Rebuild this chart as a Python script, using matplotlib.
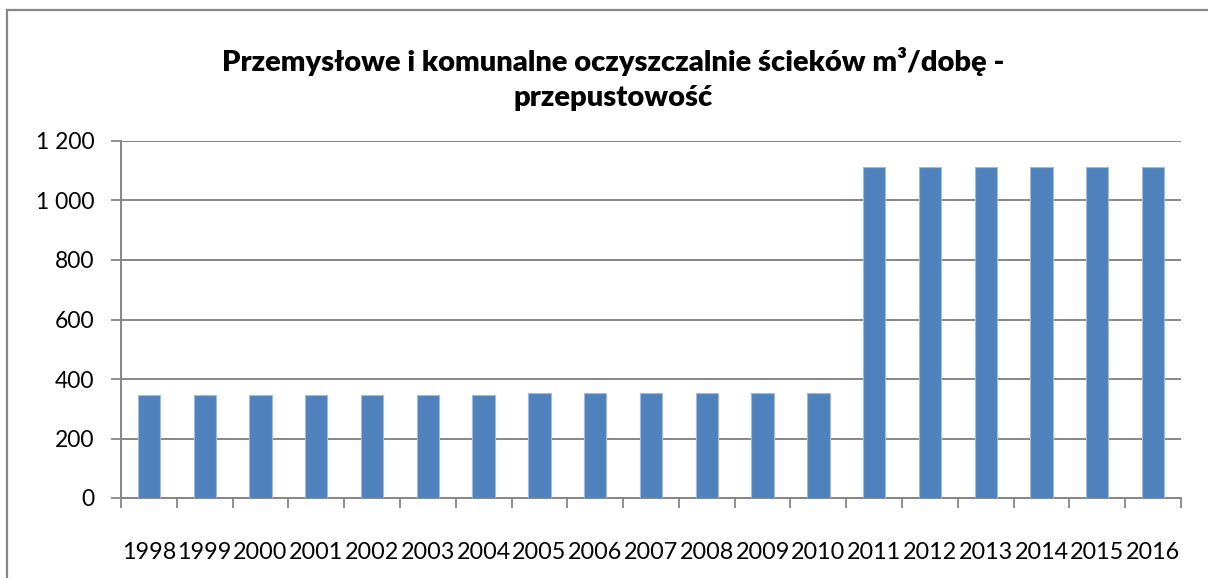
import matplotlib
matplotlib.use("Agg")
import matplotlib.pyplot as plt
from matplotlib.lines import Line2D

years = ["1998", "1999", "2000", "2001", "2002", "2003", "2004", "2005", "2006",
         "2007", "2008", "2009", "2010", "2011", "2012", "2013", "2014", "2015", "2016"]
values = [346, 346, 346, 346, 346, 346, 346, 353, 353, 353, 353, 353, 353,
          1112, 1112, 1112, 1112, 1112, 1112]
yticks = [0, 200, 400, 600, 800, 1000, 1200]
ytick_labels = ["0", "200", "400", "600", "800", "1 000", "1 200"]
title = "Przemysłowe i komunalne oczyszczalnie ścieków m³/dobę -\nprzepustowość"

plt.rcParams['font.family'] = ['Lato', 'DejaVu Sans']

W, H = 1208, 578
fig = plt.figure(figsize=(W / 100, H / 100), dpi=100)
ax = fig.add_axes([121 / W, 1 - 498 / H, (1181 - 121) / W, (498 - 141) / H])

x = list(range(len(years)))
ax.bar(x, values, width=0.4, color="#4F81BD", edgecolor="#9DB9DD", linewidth=0.8, zorder=3)

ax.set_xlim(-0.5, len(years) - 0.5)
ax.set_ylim(0, 1200)
ax.set_yticks(yticks)
ax.set_yticklabels(ytick_labels, fontsize=16.5)
ax.set_xticks(x)
ax.set_xticklabels(years, fontsize=16.8)
ax.set_xticks([i - 0.5 for i in range(len(years) + 1)], minor=True)
ax.tick_params(axis='x', which='major', length=0, pad=32)
ax.tick_params(axis='x', which='minor', length=7, width=1.3, color="#868686")
ax.tick_params(axis='y', length=7, width=1.3, color="#868686", pad=12)

ax.grid(axis='y', color="#868686", linewidth=1.4, zorder=0)
for s in ['top', 'right']:
    ax.spines[s].set_visible(False)
for s in ['left', 'bottom']:
    ax.spines[s].set_color("#868686")
    ax.spines[s].set_linewidth(1.4)

fig.text(613 / W, 1 - 79 / H, title, ha='center', va='center', fontsize=21,
         fontweight='heavy', linespacing=1.4)

# chart area border (top and left visible)
fig.add_artist(Line2D([7 / W, 7 / W], [0, 1 - 9.5 / H], transform=fig.transFigure,
                      color="#868686", linewidth=1.6))
fig.add_artist(Line2D([7 / W, 1], [1 - 9.5 / H, 1 - 9.5 / H], transform=fig.transFigure,
                      color="#868686", linewidth=1.6))

fig.savefig("out.png", dpi=100)
